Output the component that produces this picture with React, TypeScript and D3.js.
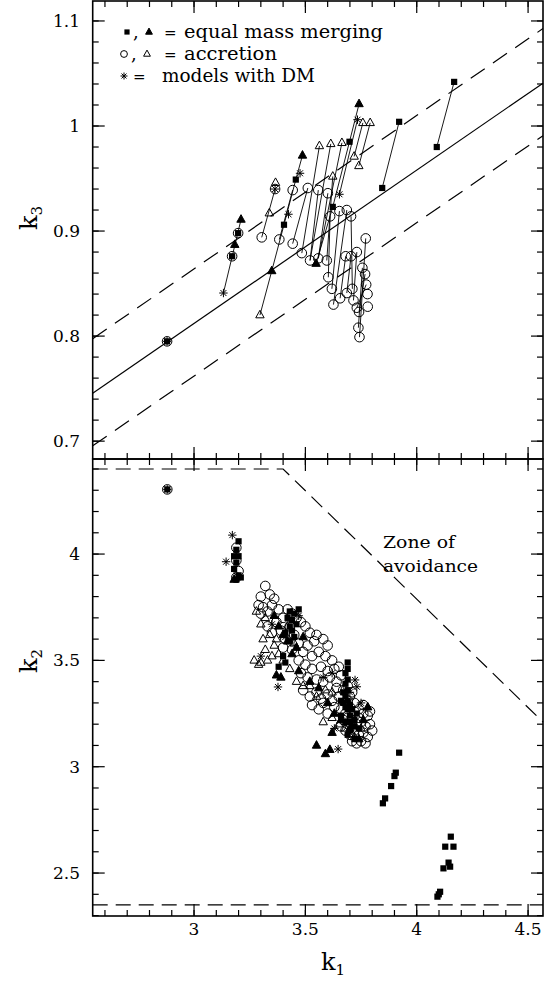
import React from 'react';
import * as d3 from 'd3';

const FONT = '"DejaVu Serif", serif';

// ---- top panel (k1, k3) ----
const topSquares = [
  [4.168, 1.042], [4.09, 0.98], [3.921, 1.004], [3.845, 0.941], [3.698, 0.985],
  [3.623, 0.923], [3.457, 0.949], [3.404, 0.906], [2.879, 0.795], [3.171, 0.876], [3.198, 0.898],
];
const topTriangles = [
  [3.741, 1.021], [3.487, 0.972], [3.211, 0.911], [3.183, 0.887], [3.349, 0.862], [3.548, 0.869],
];
const topOpenTriangles = [
  [3.758, 1.003], [3.791, 1.003], [3.719, 0.971], [3.74, 0.962], [3.563, 0.981], [3.614, 0.983],
  [3.664, 0.984], [3.623, 0.952], [3.296, 0.82], [3.338, 0.917], [3.366, 0.946],
];
const topCircles = [
  [2.879, 0.795], [3.171, 0.876], [3.198, 0.898],
  [3.304, 0.894], [3.364, 0.94], [3.383, 0.892], [3.443, 0.939], [3.443, 0.888], [3.511, 0.941],
  [3.558, 0.939], [3.601, 0.936], [3.484, 0.879], [3.521, 0.872], [3.558, 0.874], [3.596, 0.872],
  [3.611, 0.914], [3.653, 0.919], [3.686, 0.92], [3.705, 0.914], [3.771, 0.893], [3.731, 0.88],
  [3.705, 0.876], [3.681, 0.876], [3.603, 0.856], [3.619, 0.845], [3.656, 0.836], [3.626, 0.83],
  [3.686, 0.841], [3.711, 0.845], [3.716, 0.834], [3.731, 0.827], [3.741, 0.823], [3.756, 0.865],
  [3.768, 0.859], [3.773, 0.849], [3.779, 0.84], [3.78, 0.828], [3.738, 0.808], [3.743, 0.799],
];
const topStars = [
  [3.132, 0.841], [3.734, 1.006], [3.476, 0.955], [3.424, 0.916], [3.653, 0.935], [3.364, 0.94], [2.879, 0.795],
];
// model tracks: [k1a, k3a, k1b, k3b]
const topLinks = [
  [3.132, 0.841, 3.211, 0.911],
  [3.296, 0.82, 3.349, 0.862], [3.349, 0.862, 3.404, 0.906], [3.404, 0.906, 3.457, 0.949], [3.457, 0.949, 3.487, 0.972],
  [3.304, 0.894, 3.364, 0.94], [3.383, 0.892, 3.443, 0.939],
  [3.443, 0.888, 3.511, 0.941], [3.484, 0.879, 3.563, 0.981], [3.521, 0.872, 3.614, 0.983],
  [3.558, 0.874, 3.664, 0.984], [3.596, 0.872, 3.623, 0.952], [3.521, 0.872, 3.558, 0.939],
  [3.558, 0.874, 3.601, 0.936],
  [3.548, 0.869, 3.623, 0.923], [3.623, 0.923, 3.698, 0.985], [3.698, 0.985, 3.741, 1.021],
  [3.719, 0.971, 3.758, 1.003], [3.74, 0.962, 3.791, 1.003], [3.653, 0.935, 3.734, 1.006],
  [3.845, 0.941, 3.921, 1.004], [4.09, 0.98, 4.168, 1.042],
  [3.771, 0.893, 3.743, 0.799], [3.731, 0.88, 3.716, 0.834], [3.705, 0.876, 3.686, 0.841],
  [3.681, 0.876, 3.656, 0.836], [3.756, 0.865, 3.738, 0.808], [3.768, 0.859, 3.741, 0.823],
  [3.773, 0.849, 3.731, 0.827], [3.611, 0.914, 3.603, 0.856], [3.653, 0.919, 3.619, 0.845],
  [3.686, 0.92, 3.626, 0.83], [3.705, 0.914, 3.711, 0.845],
];
// fit line k3 = slope*k1 + intercept, with dashed offsets
const fitSlope = 0.146;
const fitIntercept = 0.374;
const fitOffsets = [0.052, -0.05];

// ---- bottom panel (k1, k2) ----
const botSquares = [
  [2.88, 4.304],
  [3.2, 4.06], [3.19, 4.02], [3.18, 3.99], [3.19, 3.96], [3.18, 3.93], [3.2, 3.9], [3.19, 3.88], [3.21, 3.89], [3.2, 3.99],
  [3.69, 3.49], [3.69, 3.46], [3.68, 3.44], [3.69, 3.41], [3.68, 3.39], [3.69, 3.36], [3.68, 3.33], [3.69, 3.31], [3.7, 3.29],
  [3.43, 3.73], [3.45, 3.72], [3.44, 3.69], [3.43, 3.66], [3.44, 3.64], [3.45, 3.61], [3.43, 3.59], [3.46, 3.67],
  [3.41, 3.63], [3.47, 3.74], [3.42, 3.7], [3.4, 3.52], [3.41, 3.49], [3.38, 3.47],
  [3.67, 3.3], [3.7, 3.24], [3.72, 3.22], [3.73, 3.25], [3.71, 3.19], [3.69, 3.27], [3.74, 3.18], [3.71, 3.27],
  [3.66, 3.24], [3.68, 3.21], [3.7, 3.17], [3.66, 3.31], [3.72, 3.13], [3.67, 3.35], [3.7, 3.21], [3.68, 3.28],
  [3.72, 3.19], [3.69, 3.15],
  [3.921, 3.066], [3.906, 2.972], [3.9, 2.956], [3.885, 2.909], [3.858, 2.851], [3.848, 2.828],
  [4.153, 2.671], [4.128, 2.624], [4.165, 2.624], [4.143, 2.549], [4.12, 2.522], [4.15, 2.53],
  [4.105, 2.412], [4.093, 2.389], [4.099, 2.4],
];
const botTriangles = [
  [3.36, 3.71], [3.38, 3.66], [3.4, 3.62], [3.42, 3.59], [3.37, 3.43], [3.39, 3.42], [3.44, 3.53], [3.46, 3.56],
  [3.49, 3.61], [3.52, 3.4], [3.56, 3.37], [3.6, 3.3], [3.63, 3.25], [3.66, 3.22], [3.7, 3.18], [3.74, 3.13],
  [3.76, 3.22], [3.78, 3.28], [3.55, 3.1], [3.59, 3.06], [3.61, 3.08], [3.62, 3.16], [3.47, 3.45], [3.18, 3.88],
];
const botOpenTriangles = [
  [3.27, 3.5], [3.3, 3.49], [3.33, 3.5], [3.35, 3.52], [3.29, 3.48], [3.32, 3.55], [3.36, 3.57], [3.38, 3.53],
  [3.31, 3.6], [3.34, 3.62], [3.3, 3.67], [3.28, 3.73], [3.32, 3.7], [3.37, 3.6], [3.4, 3.5], [3.43, 3.46],
  [3.46, 3.4], [3.49, 3.38], [3.52, 3.38], [3.55, 3.33], [3.59, 3.36], [3.62, 3.35], [3.58, 3.21], [3.62, 3.23],
  [3.65, 3.2], [3.42, 3.66], [3.45, 3.58], [3.68, 3.18], [3.72, 3.14], [3.75, 3.18],
];
const botCircles = [
  [2.88, 4.304], [3.19, 4.03], [3.19, 3.97], [3.2, 3.92], [3.19, 3.89],
  [3.32, 3.85], [3.3, 3.8], [3.34, 3.81], [3.36, 3.79], [3.29, 3.76], [3.31, 3.75], [3.33, 3.73], [3.3, 3.72],
  [3.35, 3.76], [3.38, 3.74], [3.42, 3.74], [3.44, 3.72], [3.4, 3.7], [3.37, 3.68], [3.33, 3.66], [3.35, 3.63],
  [3.39, 3.64], [3.43, 3.66], [3.46, 3.7], [3.48, 3.68], [3.41, 3.6], [3.45, 3.62], [3.47, 3.58], [3.44, 3.55],
  [3.4, 3.56], [3.5, 3.66], [3.52, 3.63], [3.55, 3.62], [3.54, 3.59], [3.58, 3.6], [3.6, 3.57], [3.51, 3.57],
  [3.49, 3.54], [3.53, 3.52], [3.56, 3.54], [3.59, 3.52], [3.62, 3.5], [3.47, 3.5], [3.5, 3.48], [3.53, 3.46],
  [3.57, 3.47], [3.6, 3.45], [3.63, 3.46], [3.65, 3.47], [3.48, 3.44], [3.51, 3.42], [3.55, 3.41], [3.58, 3.4],
  [3.61, 3.42], [3.64, 3.4], [3.66, 3.43], [3.49, 3.36], [3.52, 3.33], [3.55, 3.35], [3.57, 3.32], [3.6, 3.34],
  [3.62, 3.31], [3.53, 3.29], [3.56, 3.27], [3.6, 3.25], [3.63, 3.28], [3.58, 3.3], [3.65, 3.33], [3.67, 3.36],
  [3.69, 3.31], [3.66, 3.27], [3.68, 3.25], [3.7, 3.28], [3.72, 3.26], [3.74, 3.27], [3.76, 3.25], [3.78, 3.24],
  [3.67, 3.22], [3.69, 3.2], [3.71, 3.22], [3.73, 3.2], [3.75, 3.21], [3.77, 3.19], [3.79, 3.2], [3.68, 3.17],
  [3.7, 3.15], [3.72, 3.17], [3.74, 3.15], [3.76, 3.16], [3.78, 3.14], [3.71, 3.12], [3.73, 3.11], [3.75, 3.12],
  [3.77, 3.11], [3.69, 3.23], [3.74, 3.23], [3.66, 3.19], [3.8, 3.17], [3.79, 3.26], [3.72, 3.3], [3.76, 3.29],
  [3.7, 3.33], [3.69, 3.38], [3.71, 3.35], [3.64, 3.37],
];
const botStars = [
  [2.88, 4.304], [3.172, 4.089], [3.144, 3.964],
  [3.377, 3.375], [3.731, 3.376], [3.723, 3.408], [3.647, 3.083], [3.3, 3.52], [3.41, 3.61], [3.47, 3.71],
  [3.62, 3.44], [3.7, 3.35], [3.75, 3.3], [3.63, 3.18], [3.58, 3.42], [3.35, 3.67],
];
// zone of avoidance boundaries
const zoneUpper = [[2.545, 4.4], [3.4, 4.4], [4.567, 3.21]];
const zoneLower = [[2.545, 2.35], [4.567, 2.35]];

const xMajor = [3, 3.5, 4, 4.5];
const xMinor = d3.range(26, 46).map((v) => v / 10);
const k3Major = [0.7, 0.8, 0.9, 1, 1.1];
const k3Minor = d3.range(35, 56).map((v) => v / 50);
const k2Major = [2.5, 3, 3.5, 4];
const k2Minor = d3.range(23, 45).map((v) => v / 10);

const Sq = ({ x, y, s = 3.1 }) => <rect x={x - s} y={y - s} width={2 * s} height={2 * s} fill="#000" />;
const Tri = ({ x, y, filled, s = 4.2 }) => (
  <path
    d={`M${x},${y - s * 1.15}L${x + s},${y + s * 0.65}L${x - s},${y + s * 0.65}Z`}
    fill={filled ? '#000' : 'none'}
    stroke="#000"
    strokeWidth={1}
  />
);
const Circ = ({ x, y, r = 4.8 }) => <circle cx={x} cy={y} r={r} fill="none" stroke="#000" strokeWidth={1} />;
const Star = ({ x, y, s = 4.2 }) => {
  const d = [0, 45, 90, 135]
    .map((a) => {
      const r = (a * Math.PI) / 180;
      const dx = Math.cos(r) * s, dy = Math.sin(r) * s;
      return `M${x - dx},${y - dy}L${x + dx},${y + dy}`;
    })
    .join('');
  return <path d={d} stroke="#000" strokeWidth={1} />;
};

function Frame({ x, y, yMajor, yMinor, fmt, bottomLabels }) {
  const [x0, x1] = x.range();
  const [y0, y1] = y.range();
  const M = 12, m = 6;
  const out = [];
  xMinor.forEach((v, i) => {
    const p = x(v);
    out.push(<line key={'xb' + i} x1={p} x2={p} y1={y0} y2={y0 - m} />);
    out.push(<line key={'xt' + i} x1={p} x2={p} y1={y1} y2={y1 + m} />);
  });
  xMajor.forEach((v, i) => {
    const p = x(v);
    out.push(<line key={'Xb' + i} x1={p} x2={p} y1={y0} y2={y0 - M} />);
    out.push(<line key={'Xt' + i} x1={p} x2={p} y1={y1} y2={y1 + M} />);
  });
  yMinor.forEach((v, i) => {
    const p = y(v);
    out.push(<line key={'yl' + i} x1={x0} x2={x0 + m} y1={p} y2={p} />);
    out.push(<line key={'yr' + i} x1={x1} x2={x1 - m} y1={p} y2={p} />);
  });
  yMajor.forEach((v, i) => {
    const p = y(v);
    out.push(<line key={'Yl' + i} x1={x0} x2={x0 + M} y1={p} y2={p} />);
    out.push(<line key={'Yr' + i} x1={x1} x2={x1 - M} y1={p} y2={p} />);
  });
  return (
    <g>
      <g stroke="#000" strokeWidth={1.2}>{out}</g>
      <rect x={x0} y={y1} width={x1 - x0} height={y0 - y1} fill="none" stroke="#000" strokeWidth={1.6} />
      <g fontFamily={FONT} fontSize={17} fill="#000">
        {yMajor.map((v) => (
          <text key={v} x={80} y={y(v) + 6} textAnchor="end">{fmt(v)}</text>
        ))}
        {bottomLabels &&
          xMajor.map((v) => (
            <text key={v} x={x(v)} y={935} textAnchor="middle">{String(v)}</text>
          ))}
      </g>
    </g>
  );
}

function Markers({ x, y, squares, triangles, openTriangles, circles, stars }) {
  return (
    <g>
      {circles.map((d, i) => <Circ key={'c' + i} x={x(d[0])} y={y(d[1])} />)}
      {openTriangles.map((d, i) => <Tri key={'o' + i} x={x(d[0])} y={y(d[1])} filled={false} />)}
      {triangles.map((d, i) => <Tri key={'t' + i} x={x(d[0])} y={y(d[1])} filled={true} />)}
      {squares.map((d, i) => <Sq key={'s' + i} x={x(d[0])} y={y(d[1])} />)}
      {stars.map((d, i) => <Star key={'a' + i} x={x(d[0])} y={y(d[1])} />)}
    </g>
  );
}

export default function App() {
  const x = d3.scaleLinear().domain([2.545, 4.567]).range([92.7, 543]);
  const yT = d3.scaleLinear().domain([0.683, 1.119]).range([459, 1]);
  const yB = d3.scaleLinear().domain([2.298, 4.447]).range([916, 459]);
  const line = (y) => d3.line().x((d) => x(d[0])).y((d) => y(d[1]));
  const [xa, xb] = x.domain();
  const fit = (off) => [[xa, fitSlope * xa + fitIntercept + off], [xb, fitSlope * xb + fitIntercept + off]];
  const fmt = (v) => String(+v.toFixed(1));

  return (
    <svg width={546} height={985} style={{ position: 'absolute', left: 0, top: 0, background: '#fff' }}>
      <rect width={546} height={985} fill="#fff" />
      {/* top panel */}
      <g>
        <path d={line(yT)(fit(0))} stroke="#000" strokeWidth={1.2} fill="none" />
        {fitOffsets.map((o) => (
          <path key={o} d={line(yT)(fit(o))} stroke="#000" strokeWidth={1.2} fill="none" strokeDasharray="17,10" />
        ))}
        <g stroke="#000" strokeWidth={0.9}>
          {topLinks.map((d, i) => (
            <line key={i} x1={x(d[0])} y1={yT(d[1])} x2={x(d[2])} y2={yT(d[3])} />
          ))}
        </g>
        <Markers x={x} y={yT} squares={topSquares} triangles={topTriangles} openTriangles={topOpenTriangles} circles={topCircles} stars={topStars} />
        <Frame x={x} y={yT} yMajor={k3Major} yMinor={k3Minor} fmt={fmt} bottomLabels={false} />
        {/* legend */}
        <g fontFamily={FONT} fontSize={18} fill="#000">
          <Sq x={127} y={32} s={2.6} />
          <text x={133} y={38}>,</text>
          <Tri x={149} y={32} filled={true} s={3.4} />
          <text x={164} y={38} fontSize={15}>=</text>
          <text x={184} y={38} textLength={199} lengthAdjust="spacingAndGlyphs">equal mass merging</text>
          <Circ x={124} y={54} r={3.4} />
          <text x={131} y={60}>,</text>
          <Tri x={147} y={54} filled={false} s={3.4} />
          <text x={164} y={60} fontSize={15}>=</text>
          <text x={184} y={60} textLength={93} lengthAdjust="spacingAndGlyphs">accretion</text>
          <Star x={124} y={76} s={3.5} />
          <text x={133} y={82} fontSize={15}>=</text>
          <text x={162} y={82} textLength={153} lengthAdjust="spacingAndGlyphs">models with DM</text>
        </g>
        <text transform="translate(37,218) rotate(-90)" fontFamily={FONT} fontSize={24} textAnchor="middle">
          k<tspan fontSize={15} dy={5}>3</tspan>
        </text>
      </g>
      {/* bottom panel */}
      <g>
        <path d={line(yB)(zoneUpper)} stroke="#000" strokeWidth={1.2} fill="none" strokeDasharray="15,8" />
        <path d={line(yB)(zoneLower)} stroke="#000" strokeWidth={1.2} fill="none" strokeDasharray="15,8" />
        <Markers x={x} y={yB} squares={botSquares} triangles={botTriangles} openTriangles={botOpenTriangles} circles={botCircles} stars={botStars} />
        <Frame x={x} y={yB} yMajor={k2Major} yMinor={k2Minor} fmt={fmt} bottomLabels={true} />
        <g fontFamily={FONT} fontSize={17} fill="#000">
          <text x={383} y={548} textLength={72} lengthAdjust="spacingAndGlyphs">Zone of</text>
          <text x={383} y={572} textLength={95} lengthAdjust="spacingAndGlyphs">avoidance</text>
        </g>
        <text transform="translate(37,661) rotate(-90)" fontFamily={FONT} fontSize={24} textAnchor="middle">
          k<tspan fontSize={15} dy={5}>2</tspan>
        </text>
        <text x={333} y={970} fontFamily={FONT} fontSize={24} textAnchor="middle">
          k<tspan fontSize={15} dy={5}>1</tspan>
        </text>
      </g>
    </svg>
  );
}
